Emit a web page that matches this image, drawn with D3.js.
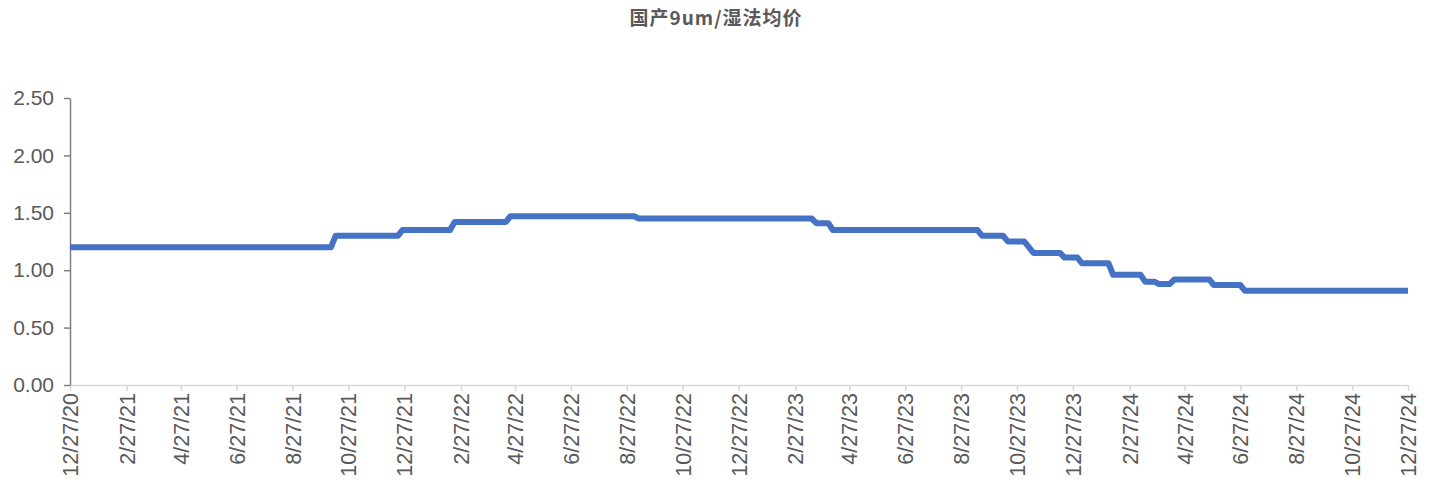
<!DOCTYPE html>
<html>
<head>
<meta charset="utf-8">
<script src="https://cdn.jsdelivr.net/npm/d3@7/dist/d3.min.js"></script>
<style>
  html, body { margin: 0; padding: 0; background: #ffffff; }
  svg { display: block; }
</style>
</head>
<body>
<svg id="chart" width="1432" height="483"></svg>
<script>
// Price series: each entry starts a new price level (date, yuan/m²)
const chartTitle = "国产9um/湿法均价";
const levelDates = [
  "2020-12-27", "2021-10-13", "2021-12-25", "2022-02-20", "2022-04-22",
  "2022-09-09", "2023-03-22", "2023-04-09", "2023-09-19", "2023-10-17",
  "2023-11-09", "2023-11-14", "2023-12-18", "2024-01-06", "2024-02-09",
  "2024-03-15", "2024-03-30", "2024-04-16", "2024-05-29", "2024-07-02"
];
const levelValues = [
  1.20, 1.30, 1.35, 1.42, 1.47,
  1.45, 1.41, 1.35, 1.30, 1.25,
  1.20, 1.15, 1.11, 1.06, 0.96,
  0.90, 0.88, 0.92, 0.87, 0.82
];
const seriesEnd = "2024-12-27";

const xTickLabels = [
  "12/27/20", "2/27/21", "4/27/21", "6/27/21", "8/27/21", "10/27/21",
  "12/27/21", "2/27/22", "4/27/22", "6/27/22", "8/27/22", "10/27/22",
  "12/27/22", "2/27/23", "4/27/23", "6/27/23", "8/27/23", "10/27/23",
  "12/27/23", "2/27/24", "4/27/24", "6/27/24", "8/27/24", "10/27/24",
  "12/27/24"
];
const yTicks = [0, 0.5, 1.0, 1.5, 2.0, 2.5];

const svg = d3.select("#chart");
const margin = { left: 70, right: 24, top: 98, bottom: 97 };
const W = 1432, H = 483;

const parseISO = d3.timeParse("%Y-%m-%d");
const parseTick = d3.timeParse("%m/%d/%y");
const tickDates = xTickLabels.map(parseTick);

const x = d3.scaleTime()
  .domain([tickDates[0], tickDates[tickDates.length - 1]])
  .range([margin.left, W - margin.right]);
const y = d3.scaleLinear()
  .domain([0, 2.5])
  .range([H - margin.bottom - 1, margin.top]);

// Weekly sampling: the previous price is held until a few days before a change
const lagDays = 5;
const points = [];
levelDates.forEach((ds, i) => {
  const d = parseISO(ds);
  if (i > 0) points.push([d3.timeDay.offset(d, -lagDays), levelValues[i - 1]]);
  points.push([d, levelValues[i]]);
});
points.push([parseISO(seriesEnd), levelValues[levelValues.length - 1]]);

// Title
svg.append("text")
  .attr("x", 716).attr("y", 25)
  .attr("text-anchor", "middle")
  .attr("font-family", "'Noto Sans CJK SC', sans-serif")
  .attr("font-weight", "bold")
  .attr("font-size", 19)
  .attr("letter-spacing", 1)
  .attr("fill", "#595959")
  .text(chartTitle);

// X axis
const xAxis = d3.axisBottom(x)
  .tickValues(tickDates)
  .tickFormat((d, i) => xTickLabels[i])
  .tickSizeInner(6).tickSizeOuter(0);
const gx = svg.append("g")
  .attr("transform", `translate(0,${y(0)})`)
  .call(xAxis);
gx.select(".domain").attr("stroke", "#d9d9d9").attr("stroke-width", 1.5);
gx.selectAll(".tick line").attr("stroke", "#d9d9d9").attr("stroke-width", 1.5);
gx.selectAll(".tick text")
  .attr("font-family", "'Liberation Sans', Arial, sans-serif")
  .attr("font-size", 21.5)
  .attr("fill", "#595959")
  .attr("transform", "rotate(-90)")
  .attr("text-anchor", "end")
  .attr("x", -8)
  .attr("y", 0)
  .attr("dy", "0.35em");

// Y axis
const yAxis = d3.axisLeft(y)
  .tickValues(yTicks)
  .tickFormat(d3.format(".2f"))
  .tickSizeInner(6).tickSizeOuter(0);
const gy = svg.append("g")
  .attr("transform", `translate(${margin.left},0)`)
  .call(yAxis);
gy.select(".domain").attr("stroke", "#808080").attr("stroke-width", 1.5);
gy.selectAll(".tick line").attr("stroke", "#808080").attr("stroke-width", 1.5);
gy.selectAll(".tick text")
  .attr("font-family", "'Liberation Sans', Arial, sans-serif")
  .attr("font-size", 21)
  .attr("fill", "#595959")
  .attr("x", -16);

// Price line
const line = d3.line()
  .x(d => x(d[0]))
  .y(d => y(d[1]));
svg.append("path")
  .datum(points)
  .attr("d", line)
  .attr("fill", "none")
  .attr("stroke", "#4472C4")
  .attr("stroke-width", 6)
  .attr("stroke-linejoin", "round")
  .attr("stroke-linecap", "butt");
</script>
</body>
</html>
